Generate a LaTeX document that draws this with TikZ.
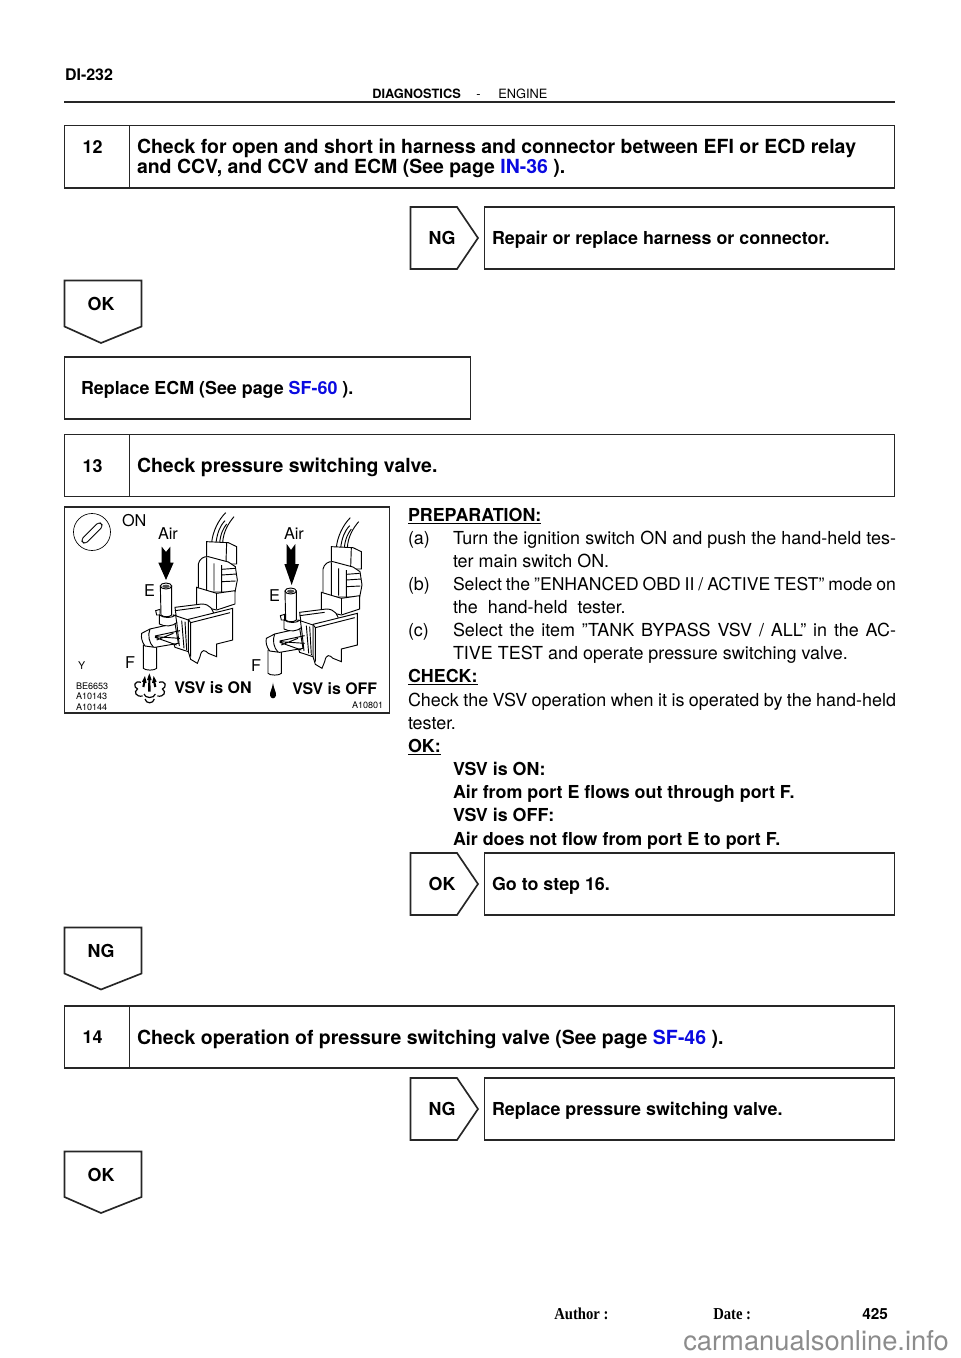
\documentclass[tikz,border=0pt]{standalone}
\usepackage{fontspec}
\setmainfont{TeX Gyre Heros}
\newfontfamily\timesf[FakeStretch=0.88]{Liberation Serif}
\newcommand{\bodyf}{\fontsize{13.45pt}{15pt}\selectfont}
\newcommand{\headf}{\fontsize{13.4pt}{15pt}\selectfont\bfseries}
\newcommand{\titlef}{\fontsize{14.6pt}{16pt}\selectfont\bfseries}
\newcommand{\lbl}{\fontsize{12.2pt}{14pt}\selectfont}
\definecolor{linkblue}{RGB}{10,10,225}
\newcommand{\lnk}[1]{\textcolor{linkblue}{#1}}
\newcommand{\just}[2]{\makebox[\dimexpr 0.75pt*#1\relax][s]{#2}}
\newcommand{\thevalve}{%
  \draw[vl] (455,128) .. controls (458,95) and (475,60) .. (497,38);
  \draw[vl] (468,128) .. controls (472,100) and (478,80) .. (495,62);
  \draw[vl] (488,128) .. controls (490,95) and (505,70) .. (522,50);
  \draw[vl] (479,128) .. controls (482,100) and (490,85) .. (500,72);
  \draw[vlf] (440,125) -- (505,128) -- (530,140) -- (530,192) -- (440,192) -- cycle;
  \draw[vl] (500,128) -- (498,185);
  \draw[vlf] (415,192) .. controls (418,178) and (430,168) .. (445,170) -- (505,186) -- (526,200) -- (532,240) -- (525,276) -- (415,276) -- cycle;
  \draw[vl] (440,172) -- (440,270) (462,190) -- (462,272) (485,195) -- (485,276) (485,208) -- (525,205) (485,225) -- (530,222) (485,245) -- (527,243);
  \draw[vlf] (410,262) -- (470,280) -- (525,272) -- (525,312) -- (470,330) -- (410,316) -- cycle;
  \draw[vl] (470,280) -- (470,328);
  \draw[vlf] (345,322) -- (425,312) .. controls (450,312) and (462,330) .. (462,350) -- (400,370) -- (350,360) -- cycle;
  \draw[vl] (345,332) -- (420,322);
  \draw[vlf] (385,358) -- (518,325) -- (518,420) -- (470,432) -- (470,470) -- (445,460) .. controls (435,450) and (425,445) .. (420,470) -- (412,490) -- (392,478) -- (385,455) -- cycle;
  \draw[vl] (392,368) -- (392,470) (385,358) -- (392,368) -- (510,338);
  \draw[vlf] (340,345) -- (385,360) -- (385,455) -- (345,442) -- (330,400) -- cycle;
  \draw[vl] (365,362) -- (372,445) (375,365) -- (380,450) (350,365) -- (358,438);
  \draw[vlf] (250,435) -- (250,505) .. controls (255,512) and (285,512) .. (290,505) -- (290,435) -- cycle;
  \draw[vlf] (245,400) -- (270,387) -- (345,370) -- (355,430) -- (285,442) -- (255,438) .. controls (245,425) and (243,412) .. (245,400) -- cycle;
  \draw[vl] (270,387) .. controls (262,405) and (268,430) .. (280,441);
  \draw[vl] (285,408) -- (360,392) (285,410) -- (360,415) (290,420) -- (340,400) (285,412) -- (350,435);
  \draw[vlf] (301,258) -- (303,345) .. controls (310,352) and (328,352) .. (335,345) -- (335,258) -- cycle;
  \draw[vlf] (318,258) ellipse[x radius=17, y radius=9];
  \fill[black!70] (318,259) ellipse[x radius=11, y radius=5];
  \draw[vlf] (287,332) -- (300,328) -- (300,345) -- (290,345) -- cycle;
  \draw[vlf] (298,345) -- (298,372) .. controls (315,382) and (340,378) .. (350,368) -- (347,345) .. controls (335,355) and (312,355) .. (298,345) -- cycle;
}
\tikzset{
  x=0.75pt,y=-0.75pt,
  rule/.style={line width=1.5pt,draw=black!85},
  boxl/.style={line width=1.25pt,draw=black!85},
  txt/.style={anchor=base west,inner sep=0pt,outer sep=0pt,font=\bodyf},
  txb/.style={anchor=base west,inner sep=0pt,outer sep=0pt,font=\headf},
  hd/.style={anchor=base west,inner sep=0pt,outer sep=0pt,font=\titlef},
  hs/.style={anchor=base west,inner sep=0pt,outer sep=0pt,font=\headf},
  hdc/.style={anchor=base,inner sep=0pt,outer sep=0pt,font=\headf},
  lab/.style={anchor=base west,inner sep=0pt,outer sep=0pt,font=\lbl},
  smalll/.style={anchor=base west,inner sep=0pt,outer sep=0pt,font=\fontsize{6.8pt}{8pt}\selectfont},
  vl/.style={line width=0.7pt,draw=black},
  vlf/.style={line width=0.7pt,draw=black,fill=white},
}
\begin{document}
\begin{tikzpicture}
\useasboundingbox[fill=white] (0,0) rectangle (960,1358);
% header
\node[hs,font=\fontsize{12pt}{14pt}\selectfont\bfseries] (pg) at (65,81) {DI-232};
\node[anchor=base west,inner sep=0pt,font=\fontsize{9.6pt}{11pt}\selectfont\bfseries] (dg) at (372,99) {DIAGNOSTICS};
\node[anchor=base west,inner sep=0pt,font=\fontsize{9.6pt}{11pt}\selectfont] (dh) at (476,99) {-};
\node[anchor=base west,inner sep=0pt,font=\fontsize{9.6pt}{11pt}\selectfont] (en) at (498,99) {ENGINE};
\coordinate (ruleL) at (64,102); \coordinate (ruleR) at (895,102);
\draw[rule] (ruleL) -- (ruleR);
% box 12
\draw[boxl] (64.5,125.5) rectangle (894.5,188) (129.5,125.5) -- (129.5,188);
\node[hdc] (n12) at (92.5,153.5) {12};
\node[hd] (t12a) at (137,154) {Check for open and short in harness and connector between EFI or ECD relay};
\node[hd] (t12b) at (137,173.5) {and CCV, and CCV and ECM (See page \lnk{IN-36} ).};
% NG 1
\draw[boxl] (410.5,207) -- (457,207) -- (478,238) -- (457,269) -- (410.5,269) -- cycle;
\node[hdc] (ng1) at (442,244.5) {NG};
\draw[boxl] (484.5,207) rectangle (894.5,269);
\node[hs] (r1) at (492,244.5) {Repair or replace harness or connector.};
% OK 1
\draw[boxl] (64.5,280.5) -- (141.5,280.5) -- (141.5,326.5) -- (101,343) -- (64.5,326.5) -- cycle;
\node[hdc] (ok1) at (101,310.5) {OK};
% Replace ECM
\draw[boxl] (64.5,357) rectangle (470.5,419);
\node[hs] (r2) at (81,394) {Replace ECM (See page \lnk{SF-60} ).};
% box 13
\draw[boxl] (64.5,434.5) rectangle (894.5,496.5) (129.5,434.5) -- (129.5,496.5);
\node[hdc] (n13) at (92.5,472) {13};
\node[hd] (t13) at (137,472) {Check pressure switching valve.};
% illustration
\draw[line width=1.1pt,draw=black!85] (64.5,507) rectangle (389.5,713);
\draw[line width=0.5pt] (92,532) circle[radius=18.5];
\draw[line width=0.6pt,rounded corners=2.5pt,rotate around={45:(92,533)}] (79,530) rectangle (105,536);
\begin{scope}[shift={(45pt,-375pt)},x=0.25pt,y=-0.25pt]
  \thevalve
  % air arrows
  \fill (305,140) -- (318,156) -- (331,140) -- (331,188) -- (341,188) -- (318,240) -- (295,188) -- (305,188) -- cycle;
  \fill (680,132) -- (693,150) -- (706,132) -- (706,192) -- (717,192) -- (695,255) -- (673,192) -- (680,192) -- cycle;
  % burst
  \fill (268,520) -- (261,540) -- (265,540) -- (264,575) -- (272,575) -- (271,540) -- (275,540) -- cycle;
  \fill (255,528) -- (246,545) -- (250,546) -- (247,560) -- (253,562) -- (256,548) -- (260,549) -- cycle;
  \fill (281,528) -- (290,545) -- (286,546) -- (289,560) -- (283,562) -- (280,548) -- (276,549) -- cycle;
  \draw[line width=0.9pt] (243,547) .. controls (222,540) and (218,562) .. (234,568);
  \draw[line width=0.9pt] (232,568) .. controls (220,575) and (228,592) .. (248,588);
  \draw[line width=0.9pt] (297,547) .. controls (318,540) and (322,562) .. (306,568);
  \draw[line width=0.9pt] (308,568) .. controls (320,575) and (312,592) .. (292,588);
  \draw[line width=0.9pt] (255,597) .. controls (258,612) and (280,612) .. (283,597);
  \draw[line width=0.9pt] (252,582) .. controls (255,596) and (283,596) .. (286,582);
  % drop
  \fill (639,548) .. controls (636,570) and (628,578) .. (630,586) .. controls (632,598) and (646,598) .. (648,586) .. controls (650,578) and (642,570) .. (639,548) -- cycle;
\end{scope}
\begin{scope}[shift={(138.5pt,-378.75pt)},x=0.25pt,y=-0.25pt]
  \thevalve
\end{scope}
\node[lab] (on) at (122,526) {ON};
\node[lab] (air1) at (158,539) {Air};
\node[lab] (air2) at (284,539) {Air};
\node[lab] (e1) at (144,596) {E};
\node[lab] (e2) at (269,601) {E};
\node[lab] (f1) at (125,668) {F};
\node[lab] (f2) at (251,671) {F};
\node[smalll,font=\fontsize{8pt}{9pt}\selectfont] (y1) at (78,669) {Y};
\node[smalll] (c1) at (76,689) {BE6653};
\node[smalll] (c2) at (76,699.5) {A10143};
\node[smalll] (c3) at (76,710.5) {A10144};
\node[smalll] (c4) at (352,708) {A10801};
\node[anchor=base west,inner sep=0pt,font=\fontsize{12pt}{14pt}\selectfont\bfseries] (von) at (174,693.5) {VSV is ON};
\node[anchor=base west,inner sep=0pt,font=\fontsize{11.9pt}{14pt}\selectfont\bfseries] (voff) at (292,694.5) {VSV is OFF};
% body text
\node[txb] (b1) at (408,521) {\underline{PREPARATION:}};
\node[txt] (b2a) at (408,544) {(a)};
\node[txt] (b2) at (453,544) {\just{443}{Turn the ignition switch ON and push the hand-held tes-}};
\node[txt] (b3) at (453,567) {ter main switch ON.};
\node[txt] (b4a) at (408,590) {(b)};
\node[txt,font=\fontsize{13.2pt}{15pt}\selectfont] (b4) at (453,590) {\just{443}{Select the ”ENHANCED OBD II / ACTIVE TEST” mode on}};
\node[txt] (b5) at (453,613) {the\ \ hand-held\ \ tester.};
\node[txt] (b6a) at (408,636) {(c)};
\node[txt] (b6) at (453,636) {\just{443}{Select the item ”TANK BYPASS VSV / ALL” in the AC-}};
\node[txt] (b7) at (453,659) {TIVE TEST and operate pressure switching valve.};
\node[txb] (b8) at (408,682) {\underline{CHECK:}};
\node[txt] (b9) at (408,706) {\just{488}{Check the VSV operation when it is operated by the hand-held}};
\node[txt] (b10) at (408,729) {tester.};
\node[txb] (b11) at (408,752) {\underline{OK:}};
\node[txb] (b12) at (453,775) {VSV is ON:};
\node[txb] (b13) at (453,798) {Air from port E flows out through port F.};
\node[txb] (b14) at (453,821) {VSV is OFF:};
\node[txb] (b15) at (453,845) {Air does not flow from port E to port F.};
% OK 2
\draw[boxl] (410.5,853) -- (457,853) -- (478,884) -- (457,915) -- (410.5,915) -- cycle;
\node[hdc] (ok2) at (442,890.5) {OK};
\draw[boxl] (484.5,853) rectangle (894.5,915);
\node[hs] (r3) at (492,890.5) {Go to step 16.};
% NG 2
\draw[boxl] (64.5,927.5) -- (141.5,927.5) -- (141.5,973.5) -- (101,989.5) -- (64.5,973.5) -- cycle;
\node[hdc] (ng2) at (101,957) {NG};
% box 14
\draw[boxl] (64.5,1006) rectangle (894.5,1068) (129.5,1006) -- (129.5,1068);
\node[hdc] (n14) at (92.5,1043.5) {14};
\node[hd] (t14) at (137,1044) {Check operation of pressure switching valve (See page \lnk{SF-46} ).};
% NG 3
\draw[boxl] (410.5,1078) -- (457,1078) -- (478,1109) -- (457,1140) -- (410.5,1140) -- cycle;
\node[hdc] (ng3) at (442,1115) {NG};
\draw[boxl] (484.5,1078) rectangle (894.5,1140);
\node[hs] (r4) at (492,1115) {Replace pressure switching valve.};
% OK 3
\draw[boxl] (64.5,1151.5) -- (141.5,1151.5) -- (141.5,1197) -- (101,1213) -- (64.5,1197) -- cycle;
\node[hdc] (ok3) at (101,1181) {OK};
% footer
\node[anchor=base west,inner sep=0pt,font=\timesf\fontsize{12.5pt}{14pt}\selectfont\bfseries] (au) at (554,1319) {Author :};
\node[anchor=base west,inner sep=0pt,font=\timesf\fontsize{12.5pt}{14pt}\selectfont\bfseries] (da) at (713,1319) {Date :};
\node[anchor=base west,inner sep=0pt,font=\fontsize{11.5pt}{13pt}\selectfont\bfseries] (pn) at (862,1319) {425};
\node[anchor=base west,inner sep=0pt,text=black!45,font=\fontsize{20.5pt}{22pt}\selectfont] (wm) at (683,1350) {carmanualsonline.info};
\end{tikzpicture}
\end{document}
